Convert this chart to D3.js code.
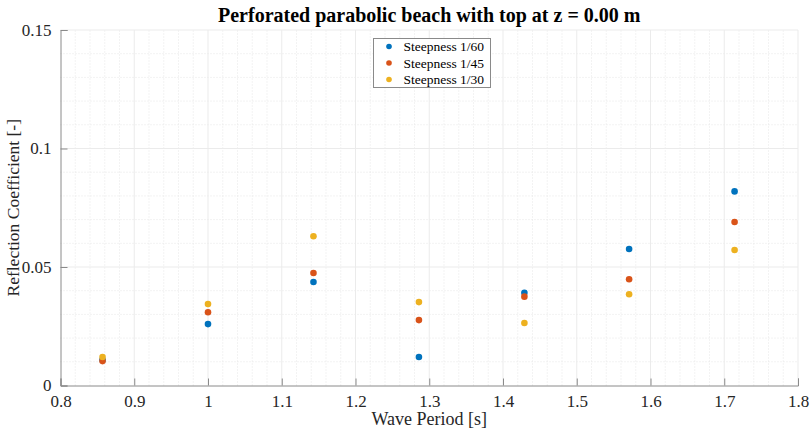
<!DOCTYPE html>
<html>
<head>
<meta charset="utf-8">
<script src="https://cdn.jsdelivr.net/npm/d3@7"></script>
<style>
  html, body { margin: 0; padding: 0; background: #fff; }
  svg { display: block; }
  text { font-family: "Liberation Serif", "Times New Roman", serif; }
</style>
</head>
<body>
<svg id="chart" width="810" height="431"></svg>
<script>
// Wave periods [s]
const periods = [0.857, 1.0, 1.143, 1.286, 1.429, 1.571, 1.714];

// Reflection coefficients per wave steepness
const steep60 = [0.0108, 0.0259, 0.0437, 0.0120, 0.0391, 0.0576, 0.0819];
const steep45 = [0.0103, 0.0309, 0.0475, 0.0276, 0.0375, 0.0448, 0.0690];
const steep30 = [0.0120, 0.0344, 0.0630, 0.0352, 0.0264, 0.0385, 0.0572];

const seriesNames = ["Steepness 1/60", "Steepness 1/45", "Steepness 1/30"];
const seriesColors = ["#0072BD", "#D95319", "#EDB120"];

const xTicks = [0.8, 0.9, 1.0, 1.1, 1.2, 1.3, 1.4, 1.5, 1.6, 1.7, 1.8];
const yTicks = [0, 0.05, 0.1, 0.15];

const series = [steep60, steep45, steep30].map((vals, i) => ({
  name: seriesNames[i],
  color: seriesColors[i],
  points: periods.map((p, j) => ({ x: p, y: vals[j] }))
}));

const svg = d3.select("#chart");
const margin = { left: 60.5, right: 12, top: 30, bottom: 45.5 };
const W = 810, H = 431;

const x = d3.scaleLinear().domain([0.8, 1.8]).range([margin.left, W - margin.right]);
const y = d3.scaleLinear().domain([0, 0.15]).range([H - margin.bottom, margin.top]);

const g = svg.append("g");

// Minor grid (dotted)
const xMinor = d3.range(0.8, 1.8001, 0.02).filter(v => Math.abs(v * 10 - Math.round(v * 10)) > 1e-6);
const yMinor = d3.range(0, 0.15001, 0.01).filter(v => Math.abs(v * 20 - Math.round(v * 20)) > 1e-6);

g.append("g").selectAll("line").data(xMinor).join("line")
  .attr("x1", d => x(d)).attr("x2", d => x(d))
  .attr("y1", y(0)).attr("y2", y(0.15))
  .attr("stroke", "#e6e6e6").attr("stroke-width", 1).attr("stroke-dasharray", "1,2");
g.append("g").selectAll("line").data(yMinor).join("line")
  .attr("y1", d => y(d)).attr("y2", d => y(d))
  .attr("x1", x(0.8)).attr("x2", x(1.8))
  .attr("stroke", "#e6e6e6").attr("stroke-width", 1).attr("stroke-dasharray", "1,2");

// Major grid
g.append("g").selectAll("line").data(xTicks.slice(1)).join("line")
  .attr("x1", d => x(d)).attr("x2", d => x(d))
  .attr("y1", y(0)).attr("y2", y(0.15))
  .attr("stroke", "#ebebeb").attr("stroke-width", 1);
g.append("g").selectAll("line").data(yTicks.slice(1)).join("line")
  .attr("y1", d => y(d)).attr("y2", d => y(d))
  .attr("x1", x(0.8)).attr("x2", x(1.8))
  .attr("stroke", "#ebebeb").attr("stroke-width", 1);

// Axes
const fmt = d => (d === 0 ? "0" : String(+d.toFixed(2)));
const xAxis = d3.axisBottom(x).tickValues(xTicks).tickSize(-7).tickPadding(9).tickFormat(fmt);
const yAxis = d3.axisLeft(y).tickValues(yTicks).tickSize(-7).tickPadding(15).tickFormat(fmt);

const gx = svg.append("g").attr("transform", `translate(0,${y(0)})`).call(xAxis);
const gy = svg.append("g").attr("transform", `translate(${x(0.8)},0)`).call(yAxis);

[gx, gy].forEach(ax => {
  ax.select(".domain").attr("stroke", "#8a8a8a").attr("stroke-width", 1);
  ax.selectAll(".tick line").attr("stroke", "#8a8a8a").attr("stroke-width", 1);
  ax.selectAll(".tick text").attr("fill", "#262626").attr("font-size", 17)
    .style("font-family", "'Liberation Serif', serif");
});
gx.selectAll(".tick text").attr("dy", "0.71em");
gy.selectAll(".tick text").attr("dx", "6px");

// Data points
series.forEach(s => {
  svg.append("g").selectAll("circle").data(s.points).join("circle")
    .attr("cx", d => x(d.x)).attr("cy", d => y(d.y))
    .attr("r", 3.3).attr("fill", s.color);
});

// Title and axis labels
svg.append("text").attr("x", (x(0.8) + x(1.8)) / 2).attr("y", 22)
  .attr("text-anchor", "middle").attr("font-size", 20).attr("font-weight", "bold")
  .attr("fill", "#000").text("Perforated parabolic beach with top at z = 0.00 m");

svg.append("text").attr("x", (x(0.8) + x(1.8)) / 2).attr("y", 425)
  .attr("text-anchor", "middle").attr("font-size", 18).attr("fill", "#262626")
  .text("Wave Period [s]");

svg.append("text")
  .attr("transform", `translate(19,${(y(0) + y(0.15)) / 2}) rotate(-90)`)
  .attr("text-anchor", "middle").attr("font-size", 17.5).attr("fill", "#262626")
  .text("Reflection Coefficient [-]");

// Legend
const leg = svg.append("g").attr("transform", "translate(373.5,38.5)");
leg.append("rect").attr("width", 117).attr("height", 49)
  .attr("fill", "#fff").attr("stroke", "#8a8a8a").attr("stroke-width", 1);
series.forEach((s, i) => {
  const ly = 8 + i * 16.5;
  leg.append("circle").attr("cx", 15.5).attr("cy", ly).attr("r", 2.8).attr("fill", s.color);
  leg.append("text").attr("x", 30).attr("y", ly + 4.5).attr("font-size", 13.5)
    .attr("fill", "#000").text(s.name);
});
</script>
</body>
</html>
